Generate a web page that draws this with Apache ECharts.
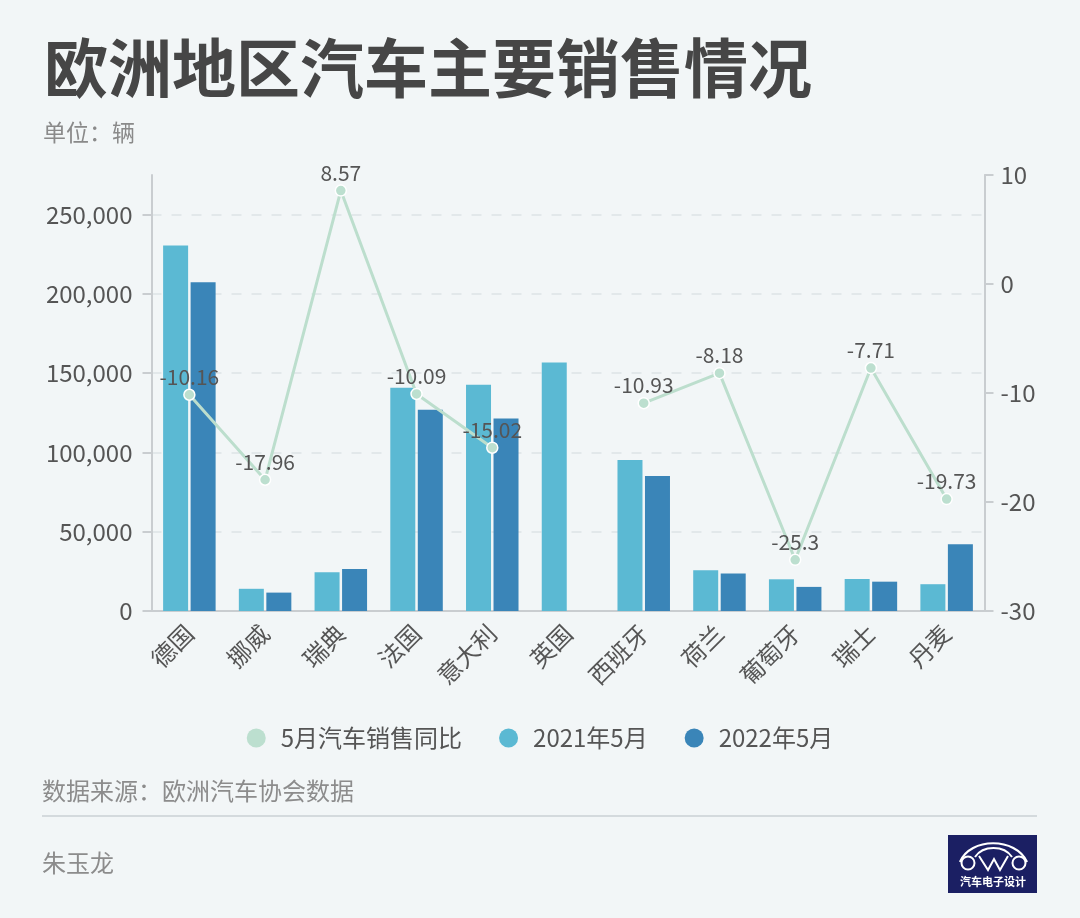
<!DOCTYPE html>
<html>
<head>
<meta charset="utf-8">
<script src="https://cdn.jsdelivr.net/npm/echarts@6/dist/echarts.min.js"></script>
<style>
html,body{margin:0;padding:0;background:#f2f6f7;}
#chart{width:1080px;height:918px;}
</style>
</head>
<body>
<div id="chart"></div>
<script>
// ---- data ----
const categories = ['德国','挪威','瑞典','法国','意大利','英国','西班牙','荷兰','葡萄牙','瑞士','丹麦'];
const sales2021 = [230600, 14000, 24400, 140800, 142700, 156800, 95300, 25700, 20000, 20200, 16900];
const sales2022 = [207300, 11600, 26500, 126900, 121400, null, 85200, 23600, 15200, 18500, 42100];
const yoyChange = [-10.16, -17.96, 8.57, -10.09, -15.02, null, -10.93, -8.18, -25.3, -7.71, -19.73];
const leftTicks = [0, 50000, 100000, 150000, 200000, 250000];
const rightTicks = [-30, -20, -10, 0, 10];
const seriesNames = ['5月汽车销售同比', '2021年5月', '2022年5月'];
const titleText = '欧洲地区汽车主要销售情况';
const unitText = '单位：辆';
const sourceText = '数据来源：欧洲汽车协会数据';
const authorText = '朱玉龙';
const logoText = '汽车电子设计';

const FONT = '"Noto Sans CJK SC", "Noto Sans", sans-serif';
const axisColor = '#c9cdd0';
const labelColor = '#555555';

const chart = echarts.init(document.getElementById('chart'), null, {renderer: 'canvas'});

const option = {
  backgroundColor: '#f2f6f7',
  textStyle: {fontFamily: FONT},
  animation: false,
  grid: {left: 151.5, right: 95.5, top: 175, bottom: 307, containLabel: false},
  legend: {
    data: seriesNames.map(n => ({name: n, icon: 'circle'})),
    left: 'center',
    top: 721,
    itemWidth: 19,
    itemHeight: 19,
    itemGap: 37,
    itemStyle: {borderWidth: 0},
    textStyle: {fontSize: 24, color: labelColor, fontFamily: FONT, padding: [0, 0, 0, 10]}
  },
  xAxis: {
    type: 'category',
    data: categories,
    axisLine: {lineStyle: {color: axisColor, width: 2}},
    axisTick: {alignWithLabel: true, length: 8, lineStyle: {color: axisColor, width: 2}},
    axisLabel: {rotate: 45, interval: 0, fontSize: 24, color: labelColor, margin: 18, fontFamily: FONT}
  },
  yAxis: [
    {
      type: 'value',
      min: leftTicks[0],
      max: 275000,
      interval: 50000,
      position: 'left',
      axisLine: {show: true, lineStyle: {color: axisColor, width: 2}},
      axisTick: {show: true, length: 9, customValues: leftTicks, lineStyle: {color: axisColor, width: 2}},
      axisLabel: {fontSize: 24, color: labelColor, margin: 19, customValues: leftTicks, fontFamily: FONT,
        formatter: v => v.toLocaleString('en-US')},
      splitLine: {show: true, lineStyle: {color: '#dde3e6', type: [10, 10], width: 1.5}}
    },
    {
      type: 'value',
      min: rightTicks[0],
      max: rightTicks[rightTicks.length - 1],
      interval: 10,
      position: 'right',
      axisLine: {show: true, lineStyle: {color: axisColor, width: 2}},
      axisTick: {show: true, length: 9, lineStyle: {color: axisColor, width: 2}},
      axisLabel: {fontSize: 24, color: labelColor, margin: 16, fontFamily: FONT},
      splitLine: {show: false}
    }
  ],
  series: [
    {
      name: seriesNames[1],
      type: 'bar',
      yAxisIndex: 0,
      data: sales2021,
      barWidth: 25,
      barGap: '10%',
      itemStyle: {color: '#5bb9d3'}
    },
    {
      name: seriesNames[2],
      type: 'bar',
      yAxisIndex: 0,
      data: sales2022,
      barWidth: 25,
      barGap: '10%',
      itemStyle: {color: '#3a85b8'}
    },
    {
      name: seriesNames[0],
      type: 'line',
      yAxisIndex: 1,
      data: yoyChange,
      connectNulls: false,
      symbol: 'circle',
      symbolSize: 11,
      z: 5,
      lineStyle: {color: '#bcdecd', width: 3},
      itemStyle: {color: '#bcdfcf', borderColor: '#ffffff', borderWidth: 1.5},
      label: {show: true, position: 'top', distance: 1, fontSize: 21, color: labelColor, fontFamily: FONT}
    }
  ],
  graphic: [
    {type: 'text', x: 44, y: 68, style: {text: titleText, fontSize: 64, fontWeight: 'bold', fill: '#464646', fontFamily: FONT, verticalAlign: 'middle'}},
    {type: 'text', x: 43, y: 132, style: {text: unitText, fontSize: 23, fill: '#8a8a8a', fontFamily: FONT, verticalAlign: 'middle'}},
    {type: 'text', x: 42, y: 791, style: {text: sourceText, fontSize: 24, fill: '#8c8c8c', fontFamily: FONT, verticalAlign: 'middle'}},
    {type: 'line', shape: {x1: 42, y1: 816, x2: 1037, y2: 816}, style: {stroke: '#d4dadd', lineWidth: 2}},
    {type: 'text', x: 42, y: 863, style: {text: authorText, fontSize: 24, fill: '#8c8c8c', fontFamily: FONT, verticalAlign: 'middle'}},
    {
      type: 'group', x: 948, y: 835,
      children: [
        {type: 'rect', shape: {x: 0, y: 0, width: 89, height: 58}, style: {fill: '#1b1f63'}},
        {type: 'bezierCurve', shape: {x1: 12, y1: 27, cpx1: 22, cpy1: 2, cpx2: 68, cpy2: 2, x2: 79, y2: 27}, style: {stroke: '#ffffff', lineWidth: 2.2, fill: null}},
        {type: 'bezierCurve', shape: {x1: 27, y1: 22, cpx1: 35, cpy1: 10, cpx2: 56, cpy2: 10, x2: 64, y2: 22}, style: {stroke: '#ffffff', lineWidth: 2, fill: null}},
        {type: 'circle', shape: {cx: 20, cy: 28, r: 6.5}, style: {stroke: '#ffffff', lineWidth: 2, fill: null}},
        {type: 'circle', shape: {cx: 71, cy: 28, r: 6.5}, style: {stroke: '#ffffff', lineWidth: 2, fill: null}},
        {type: 'polyline', shape: {points: [[31, 21], [40, 35], [46, 24], [52, 35], [60, 21]]}, style: {stroke: '#ffffff', lineWidth: 2, fill: null}},
        {type: 'text', x: 45, y: 47, style: {text: logoText, fontSize: 11, fontWeight: 'bold', fill: '#ffffff', fontFamily: FONT, align: 'center', verticalAlign: 'middle'}}
      ]
    }
  ]
};
chart.setOption(option);
</script>
</body>
</html>
